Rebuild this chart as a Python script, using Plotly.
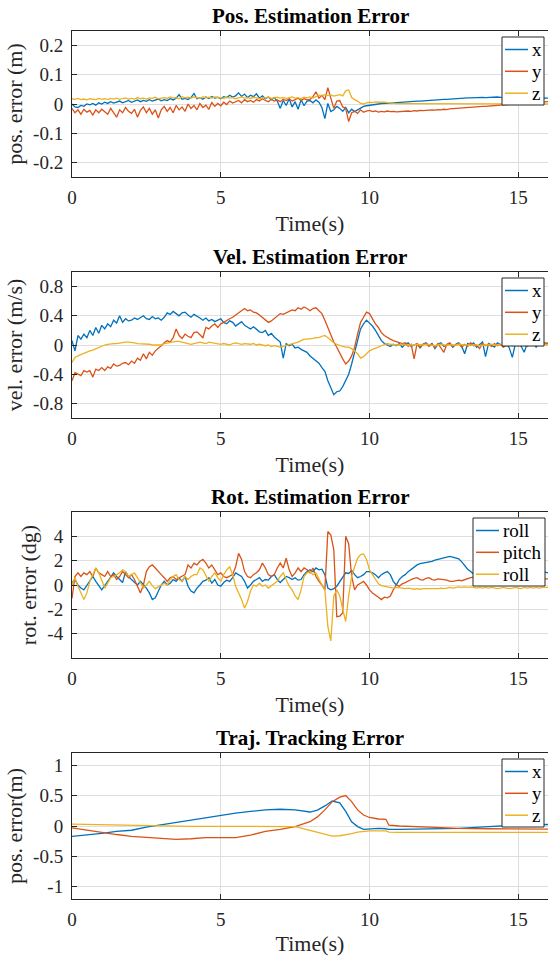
import plotly.graph_objects as go

# ---------------- data ----------------
T_EST = [i / 10 for i in range(161)]  # sample times 0..16 s, 0.1 s step

POS_X = [
    0.000, -0.010, -0.012, -0.005, -0.008, 0.000, -0.003, 0.002, -0.004, 0.004,
    0.000, 0.006, 0.002, 0.008, 0.003, 0.007, 0.010, 0.004, 0.008, 0.012,
    0.006, 0.010, 0.014, 0.008, 0.012, 0.009, 0.015, 0.010, 0.013, 0.017,
    0.011, 0.015, 0.012, 0.018, 0.014, 0.020, 0.032, 0.016, 0.019, 0.015,
    0.022, 0.036, 0.018, 0.021, 0.016, 0.024, 0.019, 0.026, 0.020, 0.023,
    0.018, 0.025, 0.022, 0.030, 0.024, 0.028, 0.038, 0.026, 0.034, 0.022,
    0.030, 0.025, 0.035, 0.020, 0.028, 0.018, 0.024, 0.015, 0.022, 0.010,
    -0.015, 0.012, -0.005, 0.018, -0.010, 0.008, -0.018, 0.015, -0.006, 0.010,
    0.012, 0.004, 0.014, 0.006, -0.012, -0.050, 0.002, -0.026, -0.020, -0.008,
    -0.015, -0.025, -0.012, -0.030, -0.018, -0.026, -0.020, -0.015, -0.008, -0.006,
    -0.004, -0.002, -0.001, 0.000, 0.001, 0.001, 0.002, 0.003, 0.004, 0.005,
    0.005, 0.006, 0.007, 0.008, 0.008, 0.009, 0.010, 0.010, 0.011, 0.012,
    0.012, 0.013, 0.014, 0.014, 0.015, 0.016, 0.016, 0.017, 0.018, 0.018,
    0.019, 0.020, 0.020, 0.021, 0.021, 0.022, 0.021, 0.022, 0.023, 0.022,
    0.023, 0.022, 0.023, 0.024, 0.023, 0.022, 0.024, 0.023, 0.022, 0.023,
    0.022, 0.023, 0.022, 0.021, 0.022, 0.021, 0.020, 0.021, 0.020, 0.020,
    0.020,
]
POS_Y = [
    -0.015, -0.030, -0.020, -0.035, -0.018, -0.028, -0.022, -0.038, -0.020, -0.030,
    -0.018, -0.025, -0.035, -0.015, -0.028, -0.045, -0.020, -0.030, -0.012, -0.025,
    -0.032, -0.018, -0.045, -0.022, -0.010, -0.030, -0.015, -0.035, -0.020, -0.048,
    -0.020, -0.008, -0.025, -0.012, -0.030, -0.005, -0.020, -0.010, -0.025, 0.000,
    -0.015, -0.005, -0.020, 0.002, -0.012, -0.004, -0.018, 0.005, -0.008, 0.002,
    -0.006, 0.006, -0.002, 0.010, 0.003, 0.008, 0.012, 0.004, 0.015, 0.008,
    0.012, 0.006, 0.015, 0.010, 0.018, 0.012, 0.008, 0.016, 0.010, 0.014,
    0.008, 0.016, 0.012, 0.018, 0.010, 0.015, 0.020, 0.012, 0.018, 0.014,
    0.016, 0.025, 0.042, 0.020, 0.030, 0.015, 0.056, 0.020, -0.015, 0.010,
    0.012, -0.010, -0.015, -0.060, -0.030, -0.025, -0.032, -0.020, -0.028, -0.024,
    -0.022, -0.026, -0.024, -0.028, -0.025, -0.027, -0.024, -0.026, -0.025, -0.027,
    -0.026, -0.025, -0.026, -0.024, -0.025, -0.023, -0.024, -0.022, -0.023, -0.021,
    -0.021, -0.020, -0.021, -0.019, -0.020, -0.018, -0.019, -0.017, -0.016, -0.015,
    -0.015, -0.014, -0.013, -0.012, -0.012, -0.011, -0.010, -0.009, -0.008, -0.008,
    -0.007, -0.006, -0.005, -0.004, -0.003, -0.002, -0.001, 0.000, 0.001, 0.002,
    0.002, 0.003, 0.003, 0.004, 0.005, 0.005, 0.006, 0.006, 0.007, 0.008,
    0.008,
]
POS_Z = [
    0.018, 0.016, 0.019, 0.015, 0.017, 0.014, 0.018, 0.016, 0.015, 0.019,
    0.016, 0.018, 0.015, 0.019, 0.017, 0.020, 0.016, 0.018, 0.021, 0.017,
    0.019, 0.017, 0.022, 0.018, 0.020, 0.017, 0.021, 0.019, 0.023, 0.018,
    0.020, 0.022, 0.019, 0.024, 0.020, 0.022, 0.018, 0.025, 0.021, 0.023,
    0.020, 0.024, 0.022, 0.019, 0.025, 0.021, 0.023, 0.020, 0.024, 0.022,
    0.021, 0.019, 0.023, 0.020, 0.022, 0.018, 0.021, 0.024, 0.020, 0.022,
    0.019, 0.023, 0.021, 0.018, 0.022, 0.020, 0.024, 0.019, 0.021, 0.023,
    0.020, 0.022, 0.019, 0.021, 0.024, 0.020, 0.022, 0.018, 0.023, 0.021,
    0.024, 0.020, 0.026, 0.030, 0.028, 0.032, 0.029, 0.031, 0.027, 0.030,
    0.032, 0.028, 0.045, 0.048, 0.022, 0.015, 0.010, 0.002, 0.000, 0.004,
    0.006, 0.005, 0.007, 0.006, 0.007, 0.006, 0.005, 0.003, 0.002, 0.001,
    0.001, 0.001, 0.000, 0.001, 0.000, 0.000, 0.001, 0.000, 0.000, 0.000,
    0.000, 0.001, 0.000, 0.000, 0.001, 0.000, -0.001, 0.000, 0.000, 0.001,
    0.000, 0.000, 0.001, 0.000, -0.001, 0.000, 0.000, 0.001, 0.000, 0.000,
    0.000, -0.001, 0.000, 0.000, 0.001, 0.000, 0.000, 0.000, -0.001, 0.000,
    0.000, 0.001, 0.000, 0.000, 0.000, -0.001, 0.000, 0.000, 0.000, 0.000,
    0.000,
]

VEL_X = [
    0.06, -0.08, 0.13, 0.08, 0.15, 0.10, 0.20, 0.13, 0.24, 0.16,
    0.27, 0.22, 0.29, 0.25, 0.34, 0.30, 0.40, 0.31, 0.36, 0.33,
    0.34, 0.37, 0.35, 0.38, 0.40, 0.36, 0.35, 0.39, 0.36, 0.37,
    0.34, 0.38, 0.44, 0.42, 0.46, 0.43, 0.40, 0.44, 0.45, 0.41,
    0.38, 0.42, 0.40, 0.37, 0.34, 0.37, 0.33, 0.35, 0.32, 0.34,
    0.36, 0.31, 0.29, 0.33, 0.31, 0.26, 0.29, 0.32, 0.27, 0.24,
    0.22, 0.25, 0.22, 0.18, 0.17, 0.20, 0.13, 0.16, 0.11, 0.08,
    0.04, -0.18, 0.02, -0.01, 0.01, -0.04, -0.03, -0.06, -0.08, -0.10,
    -0.15, -0.18, -0.21, -0.25, -0.31, -0.36, -0.49, -0.58, -0.68, -0.64,
    -0.63, -0.57, -0.49, -0.40, -0.26, -0.10, 0.10, 0.22, 0.29, 0.34,
    0.30, 0.26, 0.20, 0.13, 0.06, 0.02, 0.00, -0.02, 0.01, -0.01,
    0.02, -0.03, 0.01, 0.03, -0.02, 0.00, 0.02, -0.04, 0.01, 0.03,
    -0.01, 0.02, -0.05, 0.01, 0.03, -0.02, 0.00, 0.02, -0.03, 0.01,
    0.03, -0.02, -0.12, 0.02, 0.00, 0.03, -0.03, 0.01, 0.04, -0.16,
    0.02, 0.00, -0.03, 0.03, 0.01, -0.02, 0.02, -0.04, -0.17, 0.01,
    0.03, -0.02, -0.10, 0.02, 0.00, 0.04, -0.03, 0.02, -0.01, 0.03,
    0.01,
]
VEL_Y = [
    -0.49, -0.38, -0.40, -0.42, -0.35, -0.37, -0.35, -0.44, -0.33, -0.35,
    -0.31, -0.35, -0.30, -0.32, -0.26, -0.29, -0.28, -0.25, -0.24, -0.27,
    -0.22, -0.25, -0.18, -0.21, -0.12, -0.19, -0.10, -0.14, -0.08, -0.05,
    -0.01, 0.03, 0.06, 0.04, 0.10, 0.22, 0.13, 0.09, 0.15, 0.12,
    0.10, 0.17, 0.18, 0.14, 0.10, 0.24, 0.22, 0.26, 0.29, 0.24,
    0.29, 0.31, 0.34, 0.36, 0.38, 0.41, 0.45, 0.48, 0.50, 0.47,
    0.48, 0.45, 0.44, 0.41, 0.38, 0.34, 0.31, 0.33, 0.36, 0.39,
    0.43, 0.42, 0.44, 0.46, 0.48, 0.47, 0.51, 0.49, 0.52, 0.50,
    0.47, 0.50, 0.51, 0.47, 0.43, 0.34, 0.24, 0.13, 0.04, -0.03,
    -0.12, -0.19, -0.26, -0.22, -0.15, -0.03, 0.15, 0.31, 0.38, 0.45,
    0.43, 0.36, 0.29, 0.24, 0.17, 0.13, 0.10, 0.08, 0.06, 0.05,
    0.04, 0.02, 0.03, -0.02, 0.01, -0.19, 0.02, -0.03, 0.01, 0.02,
    -0.02, 0.01, -0.03, 0.02, -0.04, -0.10, 0.01, 0.03, -0.02, 0.00,
    0.02, -0.03, 0.01, -0.02, 0.03, -0.01, 0.00, -0.05, 0.02, -0.01,
    0.01, -0.02, 0.02, -0.01, 0.01, -0.03, 0.00, 0.02, -0.01, 0.01,
    -0.01, 0.02, 0.00, -0.02, 0.01, 0.02, -0.01, 0.01, 0.03, 0.02,
    0.03,
]
VEL_Z = [
    -0.24, -0.17, -0.15, -0.13, -0.11, -0.10, -0.08, -0.07, -0.05, -0.04,
    -0.01, 0.00, 0.01, 0.02, 0.02, 0.02, 0.03, 0.03, 0.04, 0.04,
    0.04, 0.03, 0.02, 0.02, 0.01, 0.02, 0.01, 0.00, 0.00, -0.01,
    0.00, 0.02, 0.03, 0.04, 0.04, 0.05, 0.05, 0.04, 0.03, 0.02,
    0.01, 0.02, 0.03, 0.04, 0.03, 0.02, 0.04, 0.03, 0.02, 0.01,
    0.01, 0.02, 0.01, 0.00, 0.02, 0.03, 0.02, 0.01, 0.02, 0.01,
    0.01, 0.02, 0.00, 0.01, 0.00, -0.01, 0.00, -0.02, -0.01, -0.02,
    -0.03, -0.02, -0.01, 0.00, 0.01, 0.02, 0.04, 0.06, 0.08, 0.08,
    0.08, 0.09, 0.10, 0.10, 0.12, 0.13, 0.10, 0.06, 0.03, 0.01,
    -0.01, -0.02, -0.03, -0.03, -0.05, -0.08, -0.12, -0.18, -0.16, -0.12,
    -0.08, -0.06, -0.05, -0.03, -0.01, 0.01, 0.02, 0.01, 0.00, 0.00,
    0.00, 0.01, 0.00, 0.00, -0.01, 0.00, 0.01, 0.00, 0.00, 0.01,
    0.00, 0.00, -0.01, 0.00, 0.01, 0.00, 0.00, 0.00, -0.01, 0.00,
    0.01, 0.00, 0.00, 0.00, 0.00, 0.01, 0.00, -0.01, 0.00, 0.00,
    0.00, 0.01, 0.00, 0.00, 0.00, -0.01, 0.00, 0.00, 0.01, 0.00,
    0.00, 0.00, 0.01, 0.00, 0.00, 0.00, -0.01, 0.00, 0.00, 0.01,
    0.00,
]

ROT_ROLL = [
    0.2, 0.45, 0.0, -0.25, -0.4, 0.0, 0.3, 0.7, 0.3, -0.1,
    -0.4, -0.05, 0.3, 0.7, 1.0, 0.7, 0.45, 0.2, 1.1, 0.7,
    0.45, 0.2, 0.0, 0.3, 0.0, -0.25, -0.65, -1.2, -1.05, -0.5,
    0.0, 0.3, 0.0, 0.15, 0.45, 0.3, 0.6, 0.3, 0.7, -0.1,
    -0.5, -0.65, -0.25, 0.0, 0.3, 0.4, 0.6, 0.15, 0.45, 0.0,
    -0.1, 0.2, 0.4, 0.3, 0.6, 1.0, 0.85, 0.7, 0.3, -0.25,
    0.0, 0.3, 0.45, 0.6, 0.3, 0.45, 0.4, 0.7, 0.85, 0.45,
    0.2, 0.45, 0.7, 0.6, 0.45, 0.6, 0.4, 0.45, 0.85, 1.1,
    1.25, 1.1, 1.4, 1.25, 1.3, 0.85, -0.25, -0.4, -0.3, -0.1,
    0.3, 0.6, 1.0, 0.95, 1.2, 0.85, 0.6, 0.7, 0.85, 1.1,
    1.1, 1.0, 0.85, 0.6, 0.85, 1.0, 1.1, 0.85, 0.3, 0.0,
    0.45, 0.7, 0.85, 1.1, 1.3, 1.5, 1.65, 1.75, 1.8, 1.85,
    1.85, 1.95, 2.05, 2.1, 2.2, 2.25, 2.3, 2.35, 2.3, 2.2,
    2.15, 1.9, 1.6, 1.3, 1.1, 0.9, 0.85, 1.0, 1.1, 1.0,
    0.9, 1.0, 1.1, 1.05, 0.95, 1.0, 1.1, 1.0, 0.9, 1.0,
    1.05, 1.0, 0.95, 1.0, 1.1, 1.05, 1.0, 1.1, 1.0, 1.05,
    1.0,
]
ROT_PITCH = [
    -1.1, 0.7, 1.0, 0.7, 1.0, 0.85, 1.1, 0.7, 1.4, 1.0,
    0.85, 0.7, 1.1, 0.7, 0.85, 0.45, 0.7, 1.1, 0.85, 0.6,
    0.85, 0.45, -0.1, -0.65, 0.0, 1.1, 1.5, 1.65, 1.4, 1.1,
    0.85, 0.6, 0.3, 0.6, 0.7, 0.45, 0.6, 0.7, 0.85, 1.65,
    1.4, 1.8, 1.65, 1.95, 2.1, 1.8, 1.4, 1.65, 1.25, 0.85,
    1.0, 0.7, 0.6, 0.7, 0.85, 1.5, 2.6, 2.1, 1.1, 0.7,
    0.6, 0.85, 1.0, 1.25, 1.8, 1.4, 0.85, 0.7, 0.85, 1.4,
    1.8, 1.4, 2.2, 1.25, 0.7, 1.0, 1.4, 1.1, 1.4, 1.25,
    1.0, 1.4, 0.7, 0.3, 0.0, -0.4, 4.4, 4.1, 2.9, -2.6,
    -2.55, -2.3, 4.0, 3.4, 0.7, -0.4, 0.0, 0.15, 0.3, 0.0,
    -0.4, -0.65, -0.8, -1.0, -1.2, -1.0, -1.05, -0.9, -0.4, 0.0,
    -0.1, 0.1, 0.2, 0.35, 0.45, 0.55, 0.6, 0.45, 0.4, 0.55,
    0.6, 0.45, 0.4, 0.5, 0.5, 0.45, 0.4, 0.3, 0.3, 0.35,
    0.4, 0.35, 0.45, 0.5, 0.6, 0.65, 0.7, 0.6, 0.55, 0.6,
    0.55, 0.5, 0.6, 0.55, 0.5, 0.45, 0.5, 0.55, 0.5, 0.45,
    0.5, 0.45, 0.5, 0.55, 0.5, 0.45, 0.5, 0.5, 0.45, 0.5,
    0.5,
]
ROT_ROLL2 = [
    0.0, 0.6, -0.1, -0.65, -1.2, -0.65, 0.3, 0.85, 1.4, 1.0,
    0.3, -0.25, 0.15, 0.6, 0.7, 0.85, 1.0, 1.25, 1.1, 0.7,
    0.85, 1.0, 0.6, 0.15, -0.25, 0.0, 0.3, -0.05, -0.3, -0.15,
    0.0, 0.15, 0.0, 0.45, 0.7, 0.85, 0.45, 0.3, 0.7, 0.45,
    0.7, 0.85, 0.85, 1.4, 1.25, 0.7, 0.3, 0.7, 1.0, 0.6,
    0.3, 0.85, 1.25, 1.5, 0.85, -0.1, -0.65, -1.2, -1.9, -1.35,
    -0.5, 0.0, -0.1, 0.15, -0.1, 0.0, -0.25, -0.05, 0.15, 0.3,
    0.7, 1.0, 0.45, -0.1, -0.4, -0.9, -1.2, -0.4, 0.7, 1.0,
    1.1, 0.85, 1.0, 0.45, 0.0, -0.4, -3.4, -4.6, -0.9, -0.4,
    -0.9, -2.0, -3.0, -0.9, 0.7, 1.5, 2.2, 2.5, 2.55, 2.1,
    1.25, 0.85, 0.45, 0.1, -0.05, -0.1, -0.15, -0.15, -0.25, -0.2,
    -0.2, -0.25, -0.3, -0.25, -0.3, -0.35, -0.3, -0.35, -0.3, -0.3,
    -0.35, -0.3, -0.35, -0.3, -0.25, -0.3, -0.25, -0.2, -0.25, -0.2,
    -0.15, -0.2, -0.15, -0.2, -0.15, -0.2, -0.25, -0.2, -0.25, -0.2,
    -0.25, -0.2, -0.25, -0.3, -0.25, -0.2, -0.25, -0.3, -0.25, -0.2,
    -0.25, -0.3, -0.2, -0.25, -0.2, -0.25, -0.2, -0.25, -0.2, -0.2,
    -0.2,
]

TRAJ_T = [0, 0.5, 1, 1.5, 2, 2.5, 3, 3.5, 4, 4.5,
          5, 5.5, 6, 6.5, 7, 7.5, 8, 8.25, 8.5, 8.75,
          9, 9.2, 9.4, 9.6, 9.8, 10, 10.3, 10.55, 10.65, 11,
          12, 13, 14, 15, 16]
TRAJ_X = [-0.17, -0.15, -0.12, -0.09, -0.07, -0.02, 0.02, 0.055, 0.10, 0.13,
          0.17, 0.21, 0.24, 0.265, 0.275, 0.265, 0.23, 0.26, 0.33, 0.41,
          0.38, 0.24, 0.07, -0.01, -0.055, -0.045, -0.04, -0.045, -0.055, -0.055,
          -0.045, -0.04, -0.01, 0.015, 0.025]
TRAJ_Y = [-0.03, -0.07, -0.11, -0.14, -0.17, -0.19, -0.20, -0.22, -0.21, -0.19,
          -0.19, -0.19, -0.15, -0.09, -0.055, -0.01, 0.07, 0.15, 0.265, 0.40,
          0.475, 0.50, 0.40, 0.265, 0.18, 0.14, 0.115, 0.11, 0.015, 0.0,
          -0.02, -0.04, -0.045, -0.05, -0.05]
TRAJ_Z = [0.03, 0.025, 0.015, 0.012, 0.01, 0.005, 0.0, -0.002, -0.005, -0.005,
          -0.005, -0.004, -0.003, -0.003, -0.003, -0.01, -0.07, -0.10, -0.14, -0.165,
          -0.16, -0.145, -0.125, -0.1, -0.09, -0.08, -0.08, -0.08, -0.1, -0.105,
          -0.105, -0.105, -0.105, -0.105, -0.105]

TITLES = ["Pos. Estimation Error", "Vel. Estimation Error",
          "Rot. Estimation Error", "Traj. Tracking Error"]
YLABELS = ["pos. error (m)", "vel. error (m/s)", "rot. error (dg)", "pos. error(m)"]
YRANGES = [[-0.25, 0.25], [-1, 1], [-6, 6], [-1.2, 1.2]]
YTICKS = [[-0.2, -0.1, 0, 0.1, 0.2], [-0.8, -0.4, 0, 0.4, 0.8],
          [-4, -2, 0, 2, 4], [-1, -0.5, 0, 0.5, 1]]
YTICKTEXT = [["-0.2", "-0.1", "0", "0.1", "0.2"], ["-0.8", "-0.4", "0", "0.4", "0.8"],
             ["-4", "-2", "0", "2", "4"], ["-1", "-0.5", "0", "0.5", "1"]]
XTICKS = [0, 5, 10, 15]

COLORS = ["#0072BD", "#D95319", "#EDB120"]

PANELS = [
    (T_EST, [("x", POS_X), ("y", POS_Y), ("z", POS_Z)]),
    (T_EST, [("x", VEL_X), ("y", VEL_Y), ("z", VEL_Z)]),
    (T_EST, [("roll", ROT_ROLL), ("pitch", ROT_PITCH), ("roll", ROT_ROLL2)]),
    (TRAJ_T, [("x", TRAJ_X), ("y", TRAJ_Y), ("z", TRAJ_Z)]),
]

# ---------------- layout geometry (pixels) ----------------
W, H = 548, 956
LEFT = 72
PLOT_TOPS = [31, 272, 512, 753]
PLOT_H = 146
FONT = "Liberation Serif"
AX_COLOR = "#262626"
GRID = "#dedede"
TICK_SIZE = 19
# legend box (left, right) in px; entries offsets from plot top
LEG_X = [(502, 544), (502, 544), (473, 545), (502, 544)]
LEG_BOX_DY = (6, 74)
LEG_ROWS_DY = [18.5, 40.3, 62.2]


def px(xp):
    return xp / W


def py(yp):
    return 1 - yp / H


fig = go.Figure()
annotations = []
shapes = []
layout = dict(
    width=W, height=H,
    margin=dict(l=0, r=0, t=0, b=0),
    paper_bgcolor="white", plot_bgcolor="white",
    font=dict(family=FONT, color=AX_COLOR, size=TICK_SIZE),
    showlegend=False,
)

for i, (tt, series) in enumerate(PANELS):
    n = i + 1
    xa = "x" if n == 1 else f"x{n}"
    ya = "y" if n == 1 else f"y{n}"
    for j, (name, vals) in enumerate(series):
        fig.add_trace(go.Scatter(
            x=tt, y=vals, mode="lines", name=name,
            line=dict(color=COLORS[j], width=1.3),
            xaxis=xa, yaxis=ya,
        ))
    top = PLOT_TOPS[i]
    bottom = top + PLOT_H
    d0 = py(bottom)
    d1 = py(top)
    layout[f"xaxis{'' if n == 1 else n}"] = dict(
        domain=[px(LEFT), 1.0], range=[0, 16], anchor=ya,
        tickvals=XTICKS, ticks="inside", ticklen=5, tickcolor=AX_COLOR,
        showline=True, linecolor=AX_COLOR, linewidth=1, mirror="ticks",
        showgrid=True, gridcolor=GRID, gridwidth=1, zeroline=False,
        tickfont=dict(family=FONT, size=TICK_SIZE, color=AX_COLOR),
        title=dict(text="Time(s)", font=dict(family=FONT, size=22, color=AX_COLOR),
                   standoff=8),
        automargin=False, ticklabelstandoff=3,
    )
    layout[f"yaxis{'' if n == 1 else n}"] = dict(
        domain=[d0, d1], range=YRANGES[i], anchor=xa,
        tickvals=YTICKS[i], ticktext=YTICKTEXT[i],
        ticks="inside", ticklen=5, tickcolor=AX_COLOR,
        showline=True, linecolor=AX_COLOR, linewidth=1, mirror=False,
        showgrid=True, gridcolor=GRID, gridwidth=1, zeroline=False,
        tickfont=dict(family=FONT, size=TICK_SIZE, color=AX_COLOR),
        title=dict(text=YLABELS[i], font=dict(family=FONT, size=22, color=AX_COLOR),
                   standoff=4),
        automargin=False, ticklabelstandoff=4,
    )
    # title
    annotations.append(dict(
        text=f"<b>{TITLES[i]}</b>", xref="paper", yref="paper",
        x=(px(LEFT) + 1) / 2, y=d1, xanchor="center", yanchor="bottom",
        yshift=1, showarrow=False,
        font=dict(family=FONT, size=21, color="black"),
    ))
    # legend box (MATLAB style, northeast)
    lx0, lx1 = LEG_X[i]
    shapes.append(dict(
        type="rect", xref="paper", yref="paper", layer="above",
        x0=px(lx0), x1=px(lx1), y0=py(top + LEG_BOX_DY[0]), y1=py(top + LEG_BOX_DY[1]),
        fillcolor="white", line=dict(color=AX_COLOR, width=1),
    ))
    for j, (name, vals) in enumerate(series):
        yy = py(top + LEG_ROWS_DY[j])
        shapes.append(dict(
            type="line", xref="paper", yref="paper", layer="above",
            x0=px(lx0 + 3), x1=px(lx0 + 26), y0=yy, y1=yy,
            line=dict(color=COLORS[j], width=1.5),
        ))
        annotations.append(dict(
            text=name, xref="paper", yref="paper",
            x=px(lx0 + 28), y=yy, xanchor="left", yanchor="middle",
            showarrow=False, font=dict(family=FONT, size=TICK_SIZE, color="black"),
        ))

layout["annotations"] = annotations
layout["shapes"] = shapes
fig.update_layout(**layout)
fig.write_html("out.html")
